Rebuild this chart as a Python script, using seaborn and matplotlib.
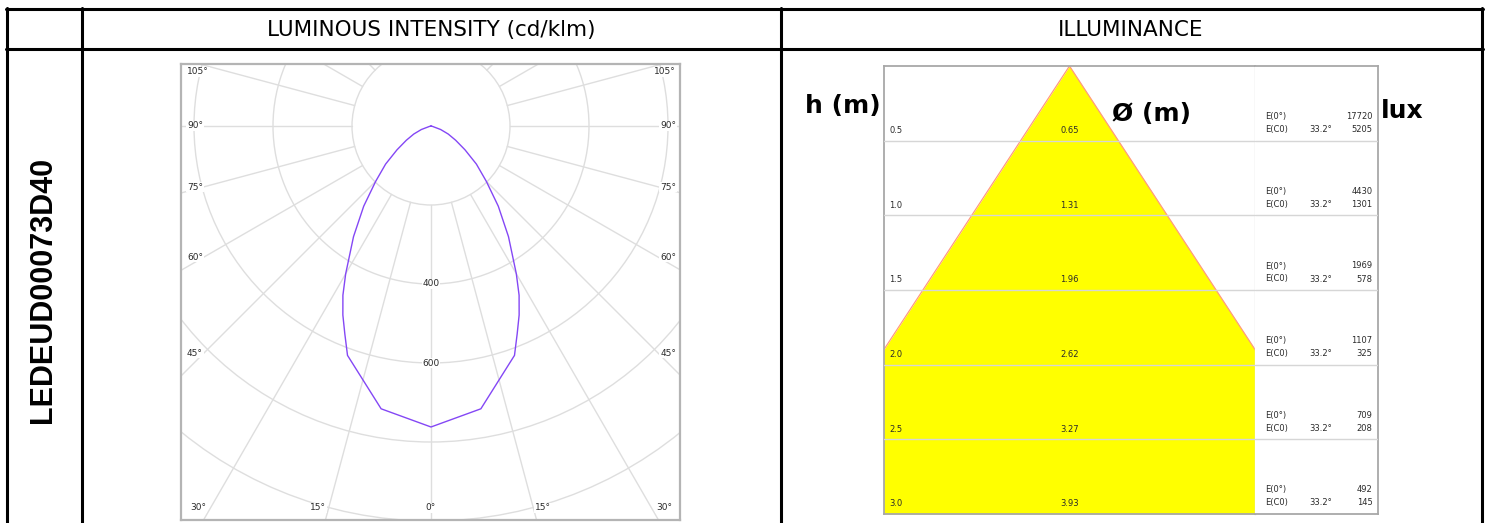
import numpy as np
import matplotlib
matplotlib.use("Agg")
import matplotlib.pyplot as plt
from matplotlib.patches import Circle
from matplotlib.lines import Line2D
import seaborn as sns
import pandas as pd

# ---------------- data ----------------
product_code = "LEDEUD00073D40"
gamma_deg = [0, 10, 20, 22.5, 25, 27.5, 30, 35, 40, 45, 50, 55, 60, 65, 70, 75, 80, 85, 90]
intensity_cdklm = [762, 727, 618, 570, 528, 483, 432, 342, 265, 198, 150, 105, 72, 48, 26, 4, 0, 0, 0]
grid_radii = [200, 400, 600, 800, 1000, 1200, 1400]
radius_labels = [400, 600]
side_angle_labels = [105, 90, 75, 60, 45]
bottom_angle_labels = [30, 15, 0, 15, 30]
heights_m = [0.5, 1.0, 1.5, 2.0, 2.5, 3.0]
diameters_m = [0.65, 1.31, 1.96, 2.62, 3.27, 3.93]
e_center_lux = [17720, 4430, 1969, 1107, 709, 492]
e_c0_lux = [5205, 1301, 578, 325, 208, 145]
half_angle_deg = 33.2

# ---------------- figure ----------------
sns.set_theme(style="white")
plt.rcParams['font.family'] = ['DejaVu Sans']
W, H = 1489, 523
fig = plt.figure(figsize=(W / 100, H / 100), dpi=100)
fig.patch.set_facecolor("white")


def fx(x):
    return x / W


def fy(y):
    return 1 - y / H


# table borders
lw_tab = 2.2
for y in (9, 49):
    fig.add_artist(Line2D([fx(6), fx(1483)], [fy(y), fy(y)], color="black", lw=lw_tab))
for x in (7, 82, 781, 1482):
    fig.add_artist(Line2D([fx(x), fx(x)], [fy(8), fy(523)], color="black", lw=lw_tab))

fig.text(fx(431), fy(30), "LUMINOUS INTENSITY (cd/klm)", ha="center", va="center",
         fontsize=15.5, color="black")
fig.text(fx(1131), fy(30), "ILLUMINANCE", ha="center", va="center",
         fontsize=15.5, color="black")
fig.text(fx(43), fy(290), product_code, ha="center", va="center", rotation=90,
         fontsize=22, fontweight="bold", family=["Liberation Sans", "DejaVu Sans"], color="black")

# ---------------- polar (luminous intensity) ----------------
S = 0.395           # px per cd/klm
CX, CY = 431, 126   # centre in px
L, R, T, B = 181, 680, 64, 520
ax1 = fig.add_axes([fx(L), fy(B), (R - L) / W, (B - T) / H])
ax1.set_xlim((L - CX) / S, (R - CX) / S)
ax1.set_ylim(-(B - CY) / S, (CY - T) / S)
ax1.set_xticks([]); ax1.set_yticks([])
ax1.set_facecolor("white")
for sp in ax1.spines.values():
    sp.set_color("#b4b4b4"); sp.set_linewidth(1.6)

grid_c = "#dedede"
for r in grid_radii:
    ax1.add_patch(Circle((0, 0), r, fill=False, ec=grid_c, lw=1.0, zorder=1))
for a in range(0, 360, 15):
    t = np.radians(a)
    ax1.plot([grid_radii[0] * np.sin(t), 3000 * np.sin(t)],
             [-grid_radii[0] * np.cos(t), -3000 * np.cos(t)], color=grid_c, lw=1.0, zorder=1)

g = np.array(gamma_deg, dtype=float)
I = np.array(intensity_cdklm, dtype=float)
ang = np.radians(np.concatenate([-g[::-1], g[1:]]))
rad = np.concatenate([I[::-1], I[1:]])
curve = pd.DataFrame({"x": rad * np.sin(ang), "y": -rad * np.cos(ang)})
sns.lineplot(data=curve, x="x", y="y", sort=False, estimator=None, color="#8447f5",
             lw=1.0, ax=ax1, zorder=3)
ax1.set_xlabel(""); ax1.set_ylabel("")

lab_kw = dict(fontsize=6.5, color="#2a2a2a", zorder=4,
              bbox=dict(facecolor="white", edgecolor="none", pad=0.6))
for r in radius_labels:
    ax1.text(0, -r, f"{r}", ha="center", va="center", **lab_kw)

side_y_px = [72, 126, 187, 257, 353]
for a, py in zip(side_angle_labels, side_y_px):
    ax1.text((187 - CX) / S, (CY - py) / S, f"{a}°", ha="left", va="center", **lab_kw)
    ax1.text((676 - CX) / S, (CY - py) / S, f"{a}°", ha="right", va="center", **lab_kw)
bottom_x_px = [198, 318, 431, 543, 664]
for a, px in zip(bottom_angle_labels, bottom_x_px):
    ax1.text((px - CX) / S, (CY - 508) / S, f"{a}°", ha="center", va="center", **lab_kw)

# ---------------- illuminance ----------------
IL, IM, IR, IT, IB = 884, 1255, 1378, 66, 514
ppm = (IB - IT) / heights_m[-1]          # px per metre
half_w = (IM - IL) / 2 / ppm
ax2 = fig.add_axes([fx(IL), fy(IB), (IM - IL) / W, (IB - IT) / H])
ax3 = fig.add_axes([fx(IM), fy(IB), (IR - IM) / W, (IB - IT) / H])
ax2.set_xlim(-half_w, half_w); ax2.set_ylim(heights_m[-1], 0)
ax3.set_xlim(0, 1); ax3.set_ylim(heights_m[-1], 0)
for ax in (ax2, ax3):
    ax.set_xticks([]); ax.set_yticks([])
    ax.set_facecolor("white")
    for sp in ax.spines.values():
        sp.set_color("#a8a8a8"); sp.set_linewidth(1.3)
ax2.spines["right"].set_color("#dcdcdc"); ax2.spines["right"].set_linewidth(1.0)
ax3.spines["left"].set_visible(False)

tn = np.tan(np.radians(half_angle_deg))
hs = np.array([0.0, heights_m[-1]])
ax2.fill_betweenx(hs, -hs * tn, hs * tn, color="#ffff00", lw=0, zorder=1)
ax2.plot(-hs * tn, hs, color="#ff9a80", lw=0.9, zorder=2)
ax2.plot(hs * tn, hs, color="#ff9a80", lw=0.9, zorder=2)
for h in heights_m[:-1]:
    ax2.axhline(h, color="#d6d6d6", lw=1.0, zorder=3)
    ax3.axhline(h, color="#d6d6d6", lw=1.0, zorder=3)

small = dict(fontsize=6.0, color="#2b2b2b", va="center", zorder=5)
for h, d, e0, ec in zip(heights_m, diameters_m, e_center_lux, e_c0_lux):
    ax2.text(-half_w + 5 / ppm, h - 10 / ppm, f"{h:.1f}", ha="left", **small)
    ax2.text(0, h - 10 / ppm, f"{d:.2f}", ha="center", **small)
    ax3.text(0.08, h - 24 / ppm, "E(0°)", ha="left", **small)
    ax3.text(0.08, h - 11 / ppm, "E(C0)", ha="left", **small)
    ax3.text(0.625, h - 11 / ppm, f"{half_angle_deg}°", ha="right", **small)
    ax3.text(0.955, h - 24 / ppm, f"{e0}", ha="right", **small)
    ax3.text(0.955, h - 11 / ppm, f"{ec}", ha="right", **small)

big = dict(fontsize=18, fontweight="bold", color="black", va="baseline")
fig.text(fx(843), fy(113), "h (m)", ha="center", **big)
fig.text(fx(1152), fy(121), "Ø (m)", ha="center", **big)
fig.text(fx(1402), fy(118), "lux", ha="center", **big)

fig.savefig("out.png", dpi=100, facecolor="white")
